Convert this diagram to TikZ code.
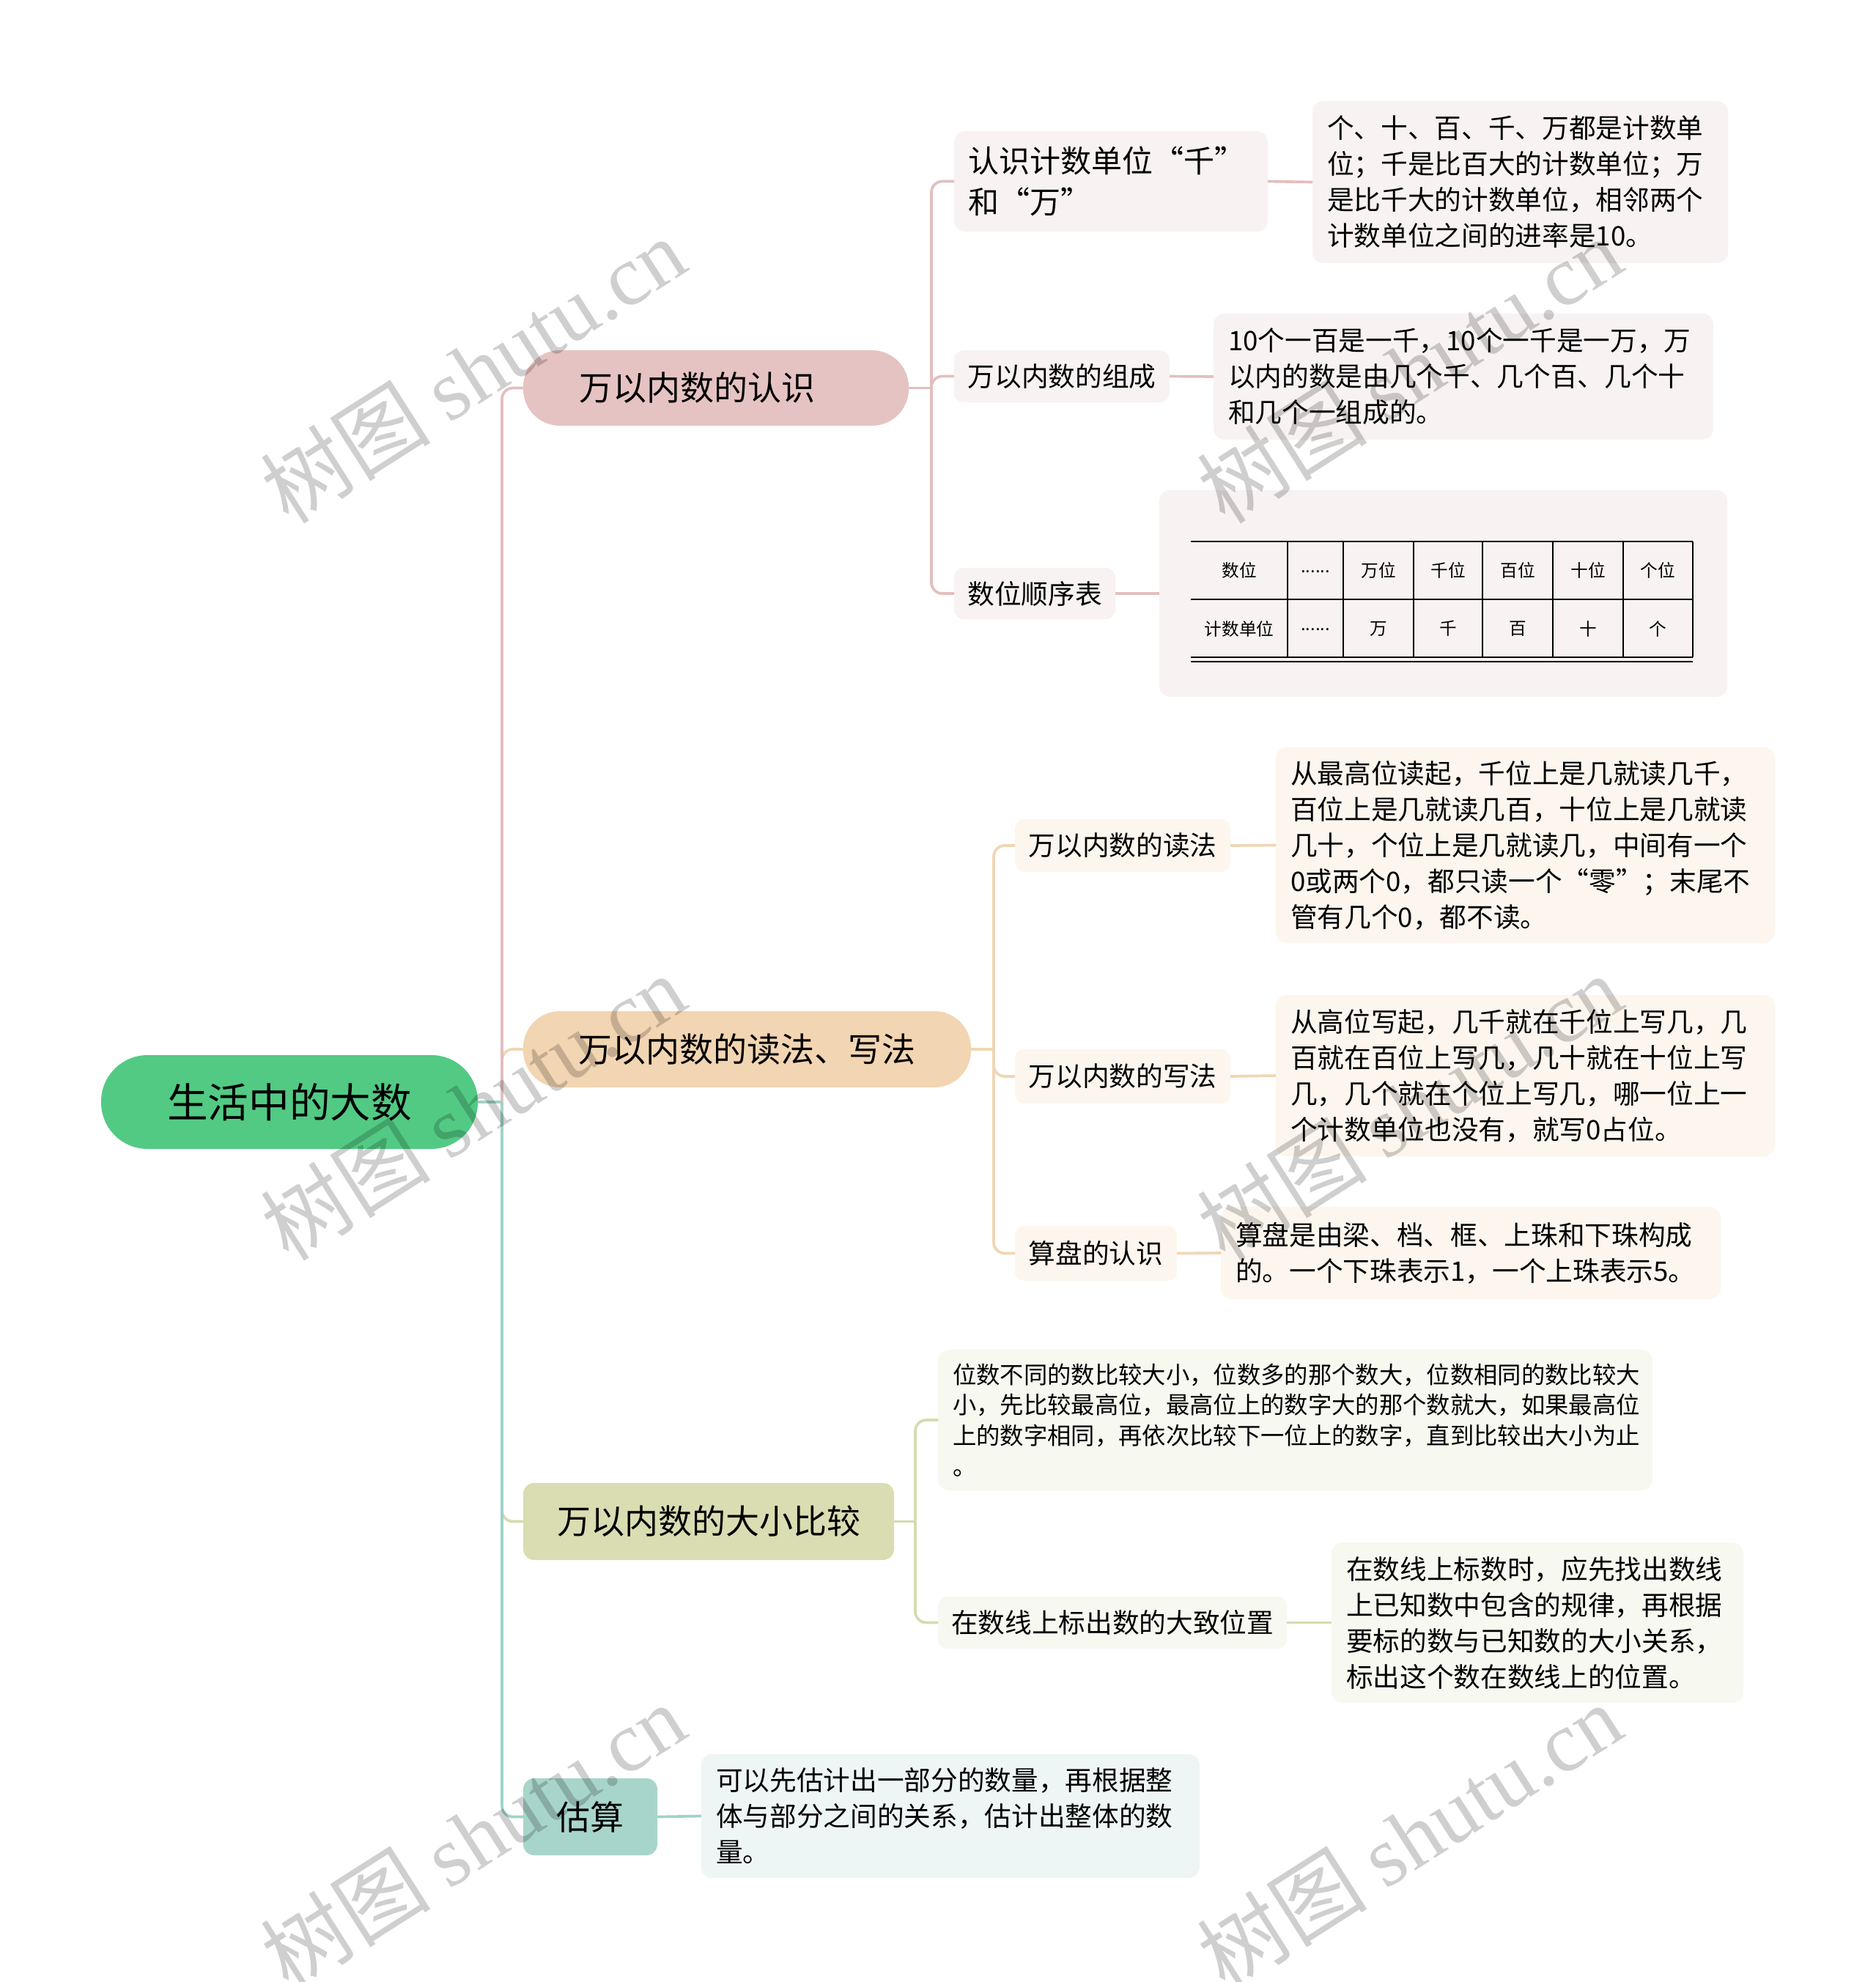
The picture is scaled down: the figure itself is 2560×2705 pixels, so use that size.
\documentclass[tikz,border=0pt]{standalone}
\usepackage{fontspec}
\setmainfont{Noto Sans CJK SC}
\newfontfamily\wmlat{Liberation Serif}
\newfontfamily\wmcjk{Noto Sans CJK SC}
\newdimen\pxu \pxu=0.3pt
\definecolor{rootc}{RGB}{82,202,132}
\definecolor{pinkc}{RGB}{230,195,195}
\definecolor{tanc}{RGB}{242,213,178}
\definecolor{olivec}{RGB}{217,221,177}
\definecolor{tealc}{RGB}{168,213,203}
\definecolor{pinkl}{RGB}{248,242,242}
\definecolor{tanl}{RGB}{253,246,238}
\definecolor{olivel}{RGB}{247,248,240}
\definecolor{teall}{RGB}{238,246,245}
\definecolor{pinkline}{RGB}{228,190,190}
\definecolor{tanline}{RGB}{240,214,180}
\definecolor{oliveline}{RGB}{214,219,175}
\definecolor{tealline}{RGB}{160,210,200}
\tikzset{
  base/.style={inner sep=0pt, outer sep=0pt, text=black, anchor=center},
  rootbox/.style={base, fill=rootc, rounded corners=19pt, font=\fontsize{16.7}{20}\selectfont},
  pillbox/.style={base, rounded corners=15pt, font=\fontsize{13.8}{17}\selectfont},
  tagbox/.style={base, rounded corners=4.5pt, font=\fontsize{13.8}{17}\selectfont},
  subbox/.style={base, rounded corners=4pt, font=\fontsize{11}{14.7}\selectfont},
  leafbox/.style={base, rounded corners=4.5pt, align=left, font=\fontsize{11}{14.7}\selectfont},
  cell/.style={base, font=\fontsize{7.1}{9}\selectfont},
  conn/.style={line width=1.1pt, rounded corners=4.5pt},
  wm/.style={base, rotate=32.5, text=black, text opacity=0.19, font=\fontsize{35}{40}\selectfont}
}
\begin{document}
\begin{tikzpicture}[x=0.3pt, y=-0.3pt]
\useasboundingbox[fill=white] (0,0) rectangle (2560,2705);

% ---------- nodes ----------
\node[rootbox, minimum width=514\pxu, minimum height=128\pxu] (root) at (395,1504) {生活中的大数};

\node[pillbox, fill=pinkc, minimum width=526\pxu, minimum height=103\pxu] (b1) at (977,529.5) {万以内数的认识\rule{15.6pt}{0pt}};
\node[pillbox, fill=tanc, minimum width=611\pxu, minimum height=104\pxu] (b2) at (1019.5,1432) {万以内数的读法、写法};
\node[tagbox, fill=olivec, minimum width=506\pxu, minimum height=105\pxu] (b3) at (967,2076.5) {万以内数的大小比较};
\node[tagbox, fill=tealc, minimum width=183\pxu, minimum height=105\pxu] (b4) at (805.5,2479.5) {估算};

% branch 1
\node[leafbox, fill=pinkl, minimum width=428\pxu, minimum height=137\pxu, text width=390\pxu, font=\fontsize{12.6}{16.6}\selectfont] (c11) at (1516,247.5) {认识计数单位“千”\\和“万”};
\node[subbox, fill=pinkl, minimum width=294\pxu, minimum height=71\pxu] (c12) at (1449,513.5) {万以内数的组成};
\node[subbox, fill=pinkl, minimum width=220\pxu, minimum height=70\pxu] (c13) at (1412,810) {数位顺序表};
\node[leafbox, fill=pinkl, minimum width=567\pxu, minimum height=221\pxu, text width=527\pxu] (l11) at (2074.5,248.5) {个、十、百、千、万都是计数单\\位；千是比百大的计数单位；万\\是比千大的计数单位，相邻两个\\计数单位之间的进率是10。};
\node[leafbox, fill=pinkl, minimum width=682\pxu, minimum height=172\pxu, text width=642\pxu] (l12) at (1997,514) {10个一百是一千，10个一千是一万，万\\以内的数是由几个千、几个百、几个十\\和几个一组成的。};
\node[base, fill=pinkl, rounded corners=4.5pt, minimum width=775\pxu, minimum height=282\pxu] (l13) at (1969.5,810) {};

% table inside l13
\draw[line width=0.6pt] (1625,739) -- (2310,739) (1625,818) -- (2310,818) (1625,897) -- (2310,897) (1625,903) -- (2310,903);
\foreach \xx in {1757,1833,1929,2023,2119,2215,2310} { \draw[line width=0.6pt] (\xx,739) -- (\xx,897); }
\node[cell] (t11) at (1691,778.5) {数位};
\node[cell] (t12) at (1795,780) {......};
\node[cell] (t13) at (1881,778.5) {万位};
\node[cell] (t14) at (1976,778.5) {千位};
\node[cell] (t15) at (2071,778.5) {百位};
\node[cell] (t16) at (2167,778.5) {十位};
\node[cell] (t17) at (2262.5,778.5) {个位};
\node[cell] (t21) at (1691,858) {计数单位};
\node[cell] (t22) at (1795,859.5) {......};
\node[cell] (t23) at (1881,858) {万};
\node[cell] (t24) at (1976,858) {千};
\node[cell] (t25) at (2071,858) {百};
\node[cell] (t26) at (2167,858) {十};
\node[cell] (t27) at (2262.5,858) {个};

% branch 2
\node[subbox, fill=tanl, minimum width=294\pxu, minimum height=72\pxu] (c21) at (1532,1154) {万以内数的读法};
\node[subbox, fill=tanl, minimum width=294\pxu, minimum height=74\pxu] (c22) at (1532,1469) {万以内数的写法};
\node[subbox, fill=tanl, minimum width=221\pxu, minimum height=75\pxu] (c23) at (1495.5,1710.5) {算盘的认识};
\node[leafbox, fill=tanl, minimum width=681\pxu, minimum height=267\pxu, text width=641\pxu] (l21) at (2081.5,1153.5) {从最高位读起，千位上是几就读几千，\\百位上是几就读几百，十位上是几就读\\几十，个位上是几就读几，中间有一个\\0或两个0，都只读一个“零”；末尾不\\管有几个0，都不读。};
\node[leafbox, fill=tanl, minimum width=681\pxu, minimum height=220\pxu, text width=641\pxu] (l22) at (2081.5,1468) {从高位写起，几千就在千位上写几，几\\百就在百位上写几，几十就在十位上写\\几，几个就在个位上写几，哪一位上一\\个计数单位也没有，就写0占位。};
\node[leafbox, fill=tanl, minimum width=682\pxu, minimum height=126\pxu, text width=642\pxu] (l23) at (2007,1710) {算盘是由梁、档、框、上珠和下珠构成\\的。一个下珠表示1，一个上珠表示5。};

% branch 3
\node[leafbox, fill=olivel, minimum width=975\pxu, minimum height=192\pxu, text width=935\pxu, font=\fontsize{9.7}{12.5}\selectfont] (l31) at (1767.5,1938) {位数不同的数比较大小，位数多的那个数大，位数相同的数比较大\\小，先比较最高位，最高位上的数字大的那个数就大，如果最高位\\上的数字相同，再依次比较下一位上的数字，直到比较出大小为止\\。};
\node[subbox, fill=olivel, minimum width=476\pxu, minimum height=71\pxu] (c32) at (1518,2214.5) {在数线上标出数的大致位置};
\node[leafbox, fill=olivel, minimum width=562\pxu, minimum height=219\pxu, text width=522\pxu] (l32) at (2098,2214.5) {在数线上标数时，应先找出数线\\上已知数中包含的规律，再根据\\要标的数与已知数的大小关系，\\标出这个数在数线上的位置。};

% branch 4
\node[leafbox, fill=teall, minimum width=680\pxu, minimum height=169\pxu, text width=640\pxu] (l4) at (1297,2478.5) {可以先估计出一部分的数量，再根据整\\体与部分之间的关系，估计出整体的数\\量。};

% ---------- connectors ----------
\coordinate (j0) at (685,1504);
\coordinate (j1) at (1271,529.5);
\coordinate (j2) at (1356,1432);
\coordinate (j3) at (1249,2076.5);

\draw[conn, tanline] (j0) |- (b2.west);
\draw[conn, pinkline] (j0) |- (b1.west);
\draw[conn, oliveline] (j0) |- (b3.west);
\draw[conn, tealline] (j0) |- (b4.west);
\draw[conn, tealline] (root.east) -- (j0);

\draw[conn, pinkline] (b1.east) -- (j1);
\draw[conn, pinkline] (j1) |- (c11.west);
\draw[conn, pinkline] (j1) |- (c12.west);
\draw[conn, pinkline] (j1) |- (c13.west);
\draw[conn, pinkline] (c11.east) -- (l11.west);
\draw[conn, pinkline] (c12.east) -- (l12.west);
\draw[conn, pinkline] (c13.east) -- (l13.west);

\draw[conn, tanline] (b2.east) -- (j2);
\draw[conn, tanline] (j2) |- (c21.west);
\draw[conn, tanline] (j2) |- (c22.west);
\draw[conn, tanline] (j2) |- (c23.west);
\draw[conn, tanline] (c21.east) -- (l21.west);
\draw[conn, tanline] (c22.east) -- (l22.west);
\draw[conn, tanline] (c23.east) -- (l23.west);

\draw[conn, oliveline] (b3.east) -- (j3);
\draw[conn, oliveline] (j3) |- (l31.west);
\draw[conn, oliveline] (j3) |- (c32.west);
\draw[conn, oliveline] (c32.east) -- (l32.west);

\draw[conn, tealline] (b4.east) -- (l4.west);

% ---------- watermarks ----------
\foreach \wx/\wy/\wn in {645/505/a, 1923/505/b, 645/1511/c, 1923/1511/d, 645/2506/e, 1923/2506/f} {
  \node[wm] (wm\wn) at (\wx,\wy) {{\wmcjk 树图} {\wmlat shutu.cn}};
}
\end{tikzpicture}
\end{document}
